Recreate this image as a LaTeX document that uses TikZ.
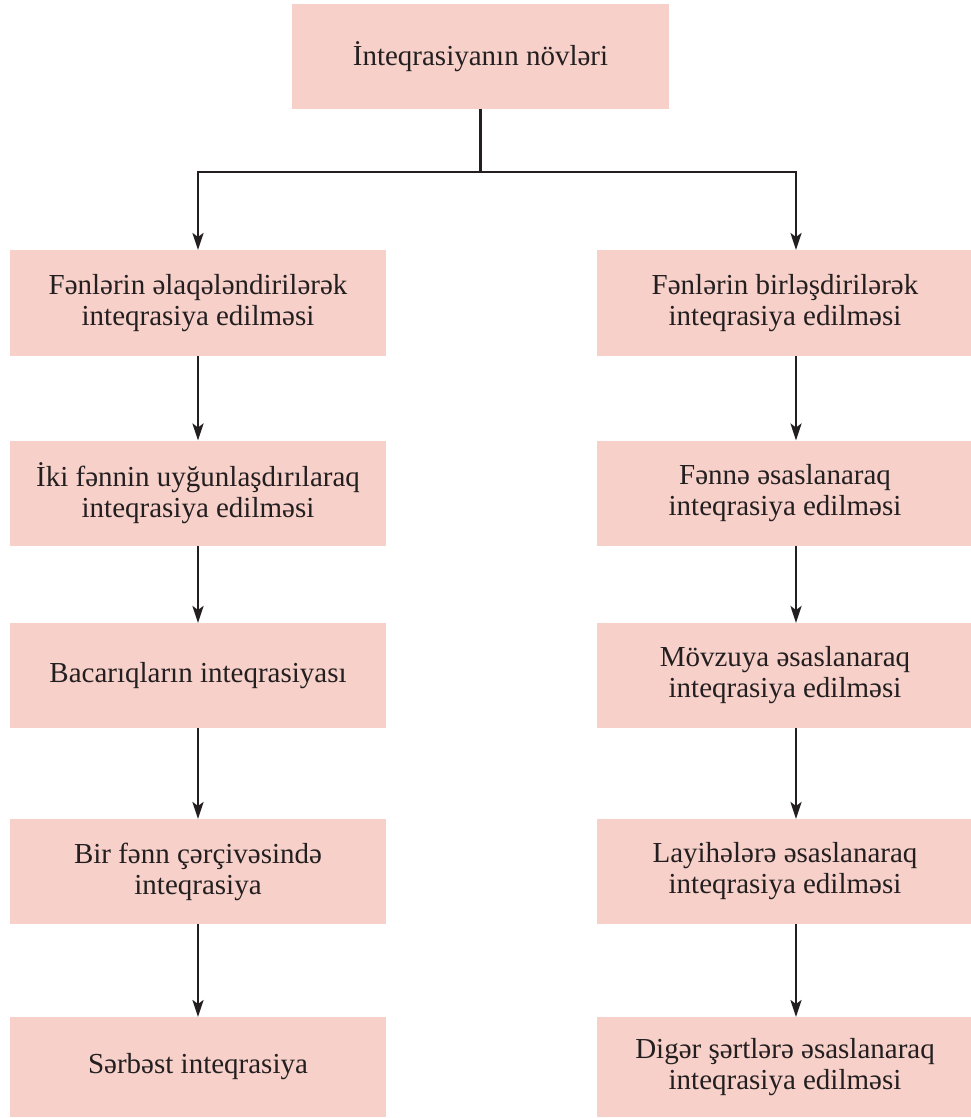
\documentclass[tikz,border=0pt]{standalone}
\usepackage{fontspec}
\setmainfont{Liberation Serif}
\usetikzlibrary{positioning, arrows.meta}
\definecolor{boxpink}{RGB}{247,208,201}
\definecolor{linegray}{RGB}{35,31,32}
\tikzset{
->, % makes the connectors directed
>={Stealth[length=17pt, width=11pt, inset=4pt]}, % narrow dark arrow heads
node distance=190pt, % distance between the centres of two boxes in a column
every node/.style={outer sep=0pt}, % arrows touch the boxes
box/.style={fill=boxpink, text=linegray, minimum width=376pt, minimum height=105pt, align=center, font=\fontsize{29}{31}\selectfont}, % the pink boxes
}

\begin{document}
\begin{tikzpicture}[color=linegray, line width=2.4pt]
            \useasboundingbox (0,0) rectangle (970pt,-1118pt);

            \node[box, minimum width=377pt] (top) at (480.5pt,-56.5pt) {İnteqrasiyanın növləri};

            % left column
            \node[box, minimum height=106pt, below of=top, xshift=-282.5pt, yshift=-56.5pt] (left1) {Fənlərin əlaqələndirilərək\\inteqrasiya edilməsi};
            \node[box, below of=left1] (left2) {İki fənnin uyğunlaşdırılaraq\\inteqrasiya edilməsi};
            \node[box, below of=left2, yshift=7.5pt] (left3) {Bacarıqların inteqrasiyası};
            \node[box, below of=left3, yshift=-6pt] (left4) {Bir fənn çərçivəsində\\inteqrasiya};
            \node[box, minimum height=100pt, below of=left4, yshift=-5.5pt] (left5) {Sərbəst inteqrasiya};

            % right column
            \node[box, minimum height=106pt, below of=top, xshift=304.5pt, yshift=-56.5pt] (right1) {Fənlərin birləşdirilərək\\inteqrasiya edilməsi};
            \node[box, below of=right1] (right2) {Fənnə əsaslanaraq\\inteqrasiya edilməsi};
            \node[box, below of=right2, yshift=7.5pt] (right3) {Mövzuya əsaslanaraq\\inteqrasiya edilməsi};
            \node[box, below of=right3, yshift=-6pt] (right4) {Layihələrə əsaslanaraq\\inteqrasiya edilməsi};
            \node[box, minimum height=100pt, below of=right4, yshift=-5.5pt] (right5) {Digər şərtlərə əsaslanaraq\\inteqrasiya edilməsi};

            \draw   (top.south) -- ++(0,-63pt) -| (left1.north);
            \draw   (top.south) -- ++(0,-63pt) -| ([xshift=11pt]right1.north);

            \draw   (left1) edge (left2);
            \draw   (left2) edge (left3);
            \draw   (left3) edge (left4);
            \draw   (left4) edge (left5);

            \draw   ([xshift=11pt]right1.south) -- ([xshift=11pt]right2.north);
            \draw   ([xshift=11pt]right2.south) -- ([xshift=11pt]right3.north);
            \draw   ([xshift=11pt]right3.south) -- ([xshift=11pt]right4.north);
            \draw   ([xshift=11pt]right4.south) -- ([xshift=11pt]right5.north);
        \end{tikzpicture}
\end{document}
